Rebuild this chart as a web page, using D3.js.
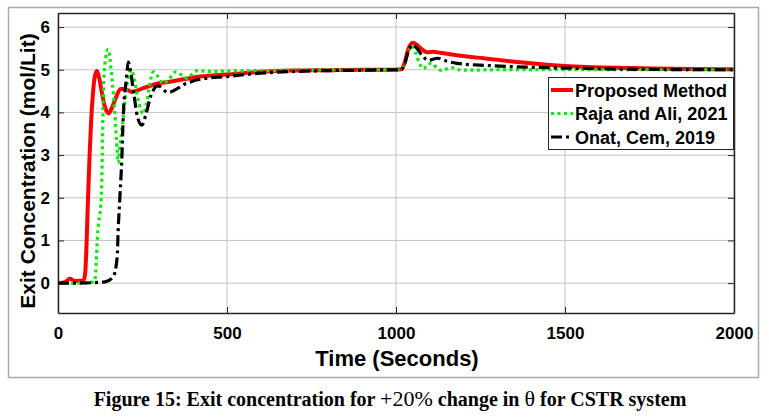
<!DOCTYPE html>
<html>
<head>
<meta charset="utf-8">
<script src="https://cdn.jsdelivr.net/npm/d3@7"></script>
<style>
  body { margin: 0; background: #fff; }
  svg { display: block; }
  .tick text { font-family: "Liberation Sans", Arial, sans-serif; font-weight: bold; font-size: 17px; fill: #000; }
</style>
</head>
<body>
<svg id="chart" width="769" height="418"></svg>
<script>
// Proposed Method
const proposedTime = [0, 20, 35, 50, 75, 80, 84, 88, 93, 98, 103, 108, 115, 122, 130, 140, 150, 158, 170, 185, 198, 218, 252, 302, 331, 380, 420, 500, 600, 700, 800, 900, 1000, 1015, 1025, 1035, 1050, 1062, 1078, 1092, 1110, 1130, 1180, 1270, 1350, 1500, 1700, 2000]
const proposedValue = [0, 0.02, 0.1, 0.05, 0.06, 0.2, 0.8, 1.8, 2.9, 3.8, 4.4, 4.8, 4.97, 4.8, 4.45, 4.1, 3.98, 4.08, 4.32, 4.55, 4.55, 4.48, 4.57, 4.69, 4.72, 4.79, 4.84, 4.89, 4.95, 4.98, 4.99, 5.0, 5.0, 5.01, 5.15, 5.45, 5.63, 5.58, 5.47, 5.41, 5.42, 5.4, 5.34, 5.26, 5.19, 5.09, 5.04, 5.01]

// Raja and Ali, 2021
const rajaTime = [0, 50, 100, 109, 118, 128, 131, 134, 139, 148, 160, 168, 175, 178, 183, 192, 200, 210, 217, 225, 237, 252, 262, 272, 282, 295, 311, 330, 348, 365, 382, 398, 412, 450, 500, 600, 700, 800, 900, 1000, 1015, 1028, 1038, 1047, 1057, 1068, 1080, 1092, 1105, 1120, 1135, 1150, 1165, 1185, 1210, 1300, 1500, 2000]
const rajaValue = [0, 0, 0.02, 0.07, 1.24, 2.0, 3.0, 4.37, 5.15, 5.48, 4.76, 4.0, 3.1, 2.82, 3.2, 3.8, 4.4, 4.9, 5.0, 4.8, 4.3, 3.97, 4.2, 4.7, 4.95, 4.85, 4.68, 4.8, 4.95, 4.88, 4.8, 4.9, 4.98, 4.96, 4.97, 4.98, 4.99, 5.0, 5.0, 5.0, 5.0, 5.2, 5.45, 5.57, 5.42, 5.18, 5.03, 5.08, 5.16, 5.05, 4.98, 5.02, 5.05, 5.0, 4.99, 5.0, 5.0, 5.0]

// Onat, Cem, 2019
const onatTime = [0, 50, 100, 139, 163, 175, 178, 183, 189, 193, 202, 208, 215, 225, 235, 248, 260, 275, 296, 325, 380, 420, 500, 600, 700, 800, 900, 1000, 1015, 1025, 1035, 1050, 1062, 1078, 1095, 1124, 1150, 1180, 1270, 1350, 1500, 1700, 2000]
const onatValue = [0, 0.0, 0.01, 0.03, 0.14, 0.6, 1.24, 2.0, 2.95, 3.9, 4.76, 5.18, 4.95, 4.4, 3.9, 3.7, 3.95, 4.4, 4.62, 4.47, 4.68, 4.78, 4.84, 4.92, 4.96, 4.98, 4.99, 5.0, 5.0, 5.12, 5.4, 5.58, 5.5, 5.33, 5.22, 5.27, 5.2, 5.15, 5.1, 5.07, 5.04, 5.01, 5.0]

const xTicks = [0, 500, 1000, 1500, 2000]
const yTicks = [0, 1, 2, 3, 4, 5, 6]

const seriesNames = ['Proposed Method', 'Raja and Ali, 2021', 'Onat, Cem, 2019']

const svg = d3.select('#chart')
const plotLeft = 58, plotRight = 734, plotTop = 13, plotBottom = 313

const x = d3.scaleLinear().domain([0, 2000]).range([plotLeft, plotRight])
const y = d3.scaleLinear().domain([-0.7, 6.33]).range([plotBottom, plotTop])

// figure frame
svg.append('rect')
  .attr('x', 8.5).attr('y', 7.5).attr('width', 750).attr('height', 370)
  .attr('fill', '#fff').attr('stroke', '#a3abb8').attr('stroke-width', 1.5)

// grid
const grid = svg.append('g').attr('stroke', '#c4c4c4').attr('stroke-width', 1)
grid.selectAll('.gx').data(xTicks).enter().append('line')
  .attr('x1', d => x(d)).attr('x2', d => x(d)).attr('y1', plotTop).attr('y2', plotBottom)
grid.selectAll('.gy').data(yTicks).enter().append('line')
  .attr('x1', plotLeft).attr('x2', plotRight).attr('y1', d => y(d)).attr('y2', d => y(d))

// axes (MATLAB style: inward ticks, box)
const axisColor = '#262626'
const fmt = d3.format('d')
const gx = svg.append('g').attr('transform', `translate(0,${plotBottom})`)
  .call(d3.axisBottom(x).tickValues(xTicks).tickFormat(fmt).tickSizeInner(-6).tickSizeOuter(0).tickPadding(14))
const gxTop = svg.append('g').attr('transform', `translate(0,${plotTop})`)
  .call(d3.axisTop(x).tickValues(xTicks).tickSizeInner(-6).tickSizeOuter(0).tickFormat(''))
const gy = svg.append('g').attr('transform', `translate(${plotLeft},0)`)
  .call(d3.axisLeft(y).tickValues(yTicks).tickFormat(fmt).tickSizeInner(-6).tickSizeOuter(0).tickPadding(8))
const gyRight = svg.append('g').attr('transform', `translate(${plotRight},0)`)
  .call(d3.axisRight(y).tickValues(yTicks).tickSizeInner(-6).tickSizeOuter(0).tickFormat(''))
;[gx, gxTop, gy, gyRight].forEach(g => {
  g.selectAll('line').attr('stroke', axisColor).attr('stroke-width', 1)
  g.select('.domain').attr('stroke', axisColor).attr('stroke-width', 1.5)
})

// lines
const styles = [
  { color: '#ff0000', width: 4, dash: null },
  { color: '#00ee00', width: 3.2, dash: '3,3.5' },
  { color: '#000000', width: 3.2, dash: '11,4,3,4' }
]
const series = [
  d3.zip(proposedTime, proposedValue),
  d3.zip(rajaTime, rajaValue),
  d3.zip(onatTime, onatValue)
]
const line = d3.line().x(d => x(d[0])).y(d => y(d[1])).curve(d3.curveMonotoneX)

const plot = svg.append('g')
series.forEach((s, i) => {
  plot.append('path')
    .datum(s)
    .attr('d', line)
    .attr('fill', 'none')
    .attr('stroke', styles[i].color)
    .attr('stroke-width', styles[i].width)
    .attr('stroke-dasharray', styles[i].dash)
    .attr('stroke-linejoin', 'round')
})

// legend
const legend = svg.append('g').attr('transform', 'translate(548,77)')
legend.append('rect').attr('x', 0.5).attr('y', 0.5).attr('width', 185).attr('height', 72)
  .attr('fill', '#fff').attr('stroke', axisColor).attr('stroke-width', 1)
seriesNames.forEach((name, i) => {
  const cy = 13 + i * 23.5
  legend.append('line')
    .attr('x1', 3).attr('x2', 25).attr('y1', cy).attr('y2', cy)
    .attr('stroke', styles[i].color)
    .attr('stroke-width', styles[i].width)
    .attr('stroke-dasharray', styles[i].dash)
  legend.append('text')
    .attr('x', 27).attr('y', cy + 6.5)
    .attr('font-family', '"Liberation Sans", Arial, sans-serif')
    .attr('font-weight', 'bold').attr('font-size', 18)
    .text(name)
})

// axis labels
svg.append('text')
  .attr('x', (plotLeft + plotRight) / 2 + 1).attr('y', 366)
  .attr('text-anchor', 'middle')
  .attr('font-family', '"Liberation Sans", Arial, sans-serif')
  .attr('font-weight', 'bold').attr('font-size', 22)
  .text('Time (Seconds)')

svg.append('text')
  .attr('transform', 'translate(35,171) rotate(-90)')
  .attr('text-anchor', 'middle')
  .attr('font-family', '"Liberation Sans", Arial, sans-serif')
  .attr('font-weight', 'bold').attr('font-size', 21)
  .text('Exit Concentration (mol/Lit)')

// caption
const cap = svg.append('text')
  .attr('x', 390).attr('y', 406)
  .attr('text-anchor', 'middle')
  .attr('font-family', '"Liberation Serif", "Times New Roman", serif')
  .attr('font-weight', 'bold').attr('font-size', 20)
cap.append('tspan').text('Figure 15: Exit concentration for ')
cap.append('tspan').attr('font-weight', 'normal').attr('font-size', 22).text('+20%')
cap.append('tspan').text(' change in ')
cap.append('tspan').attr('font-weight', 'normal').attr('font-size', 22).text('θ')
cap.append('tspan').text(' for CSTR system')
</script>
</body>
</html>
